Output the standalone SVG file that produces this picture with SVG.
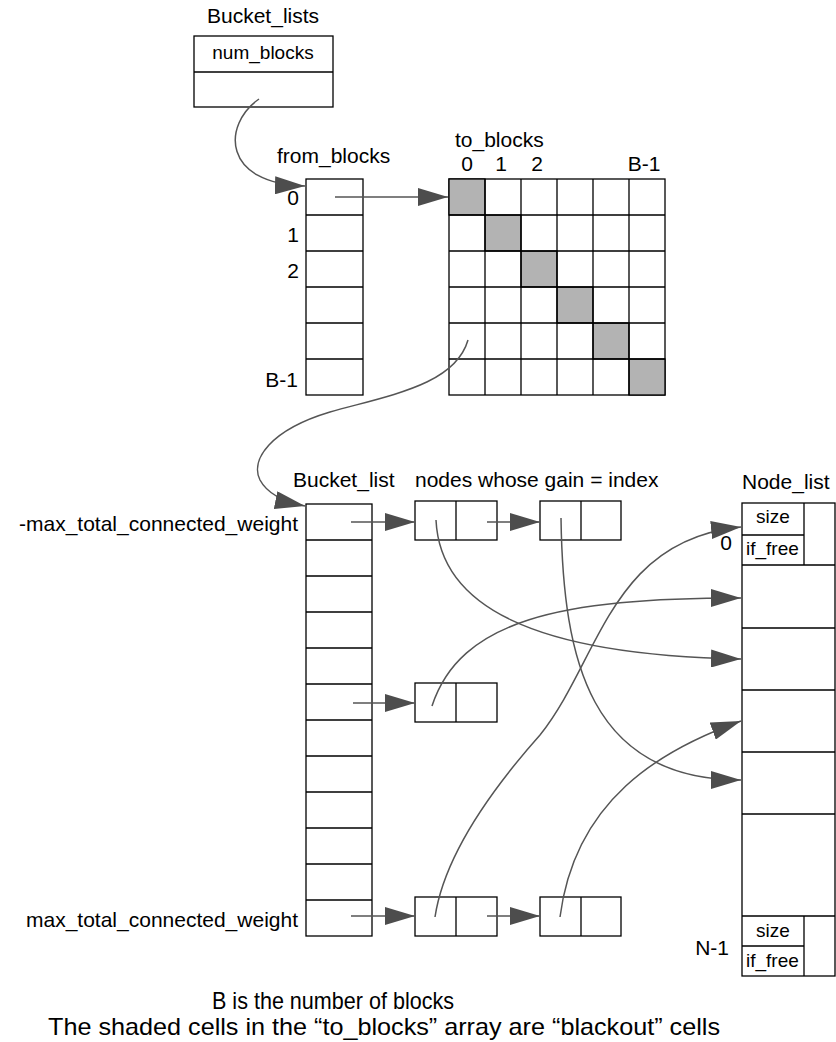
<svg xmlns="http://www.w3.org/2000/svg" width="836" height="1042" viewBox="0 0 836 1042">
  <style>
    .box { fill: #ffffff; stroke: #000000; stroke-width: 1.3; }
    .shade { fill: #b3b3b3; stroke: #000000; stroke-width: 1.3; }
    .div { stroke: #000000; stroke-width: 1.3; fill: none; }
    .lbl { font-family: "Liberation Sans", Arial, sans-serif; font-size: 21px; fill: #000000; }
    .cell { font-family: "Liberation Sans", Arial, sans-serif; font-size: 19px; fill: #000000; }
    .note { font-family: "Liberation Sans", Arial, sans-serif; font-size: 24px; fill: #000000; }
    .wire { fill: none; stroke: #555555; stroke-width: 1.5; marker-end: url(#head); }
  </style>
  <defs>
    <marker id="head" markerUnits="userSpaceOnUse" markerWidth="30" markerHeight="18" refX="30" refY="9" orient="auto">
      <path d="M0,0 L30,9 L0,18 Z" fill="#4d4d4d"/>
    </marker>
  </defs>

  <!-- Bucket_lists record -->
  <g id="bucket-lists">
    <text class="lbl" x="207" y="23">Bucket_lists</text>
    <rect class="box" x="194" y="36" width="139" height="71"/>
    <line class="div" x1="194" y1="72" x2="333" y2="72"/>
    <text class="cell" x="263" y="59" text-anchor="middle">num_blocks</text>
  </g>

  <!-- from_blocks array -->
  <g id="from-blocks">
    <text class="lbl" x="277" y="163">from_blocks</text>
    <rect class="box" x="306" y="179" width="57" height="216"/>
    <path class="div" d="M306,215 H363 M306,251 H363 M306,287 H363 M306,323 H363 M306,359 H363"/>
    <text class="lbl" x="299" y="205" text-anchor="end">0</text>
    <text class="lbl" x="299" y="242" text-anchor="end">1</text>
    <text class="lbl" x="299" y="278" text-anchor="end">2</text>
    <text class="lbl" x="298" y="387" text-anchor="end">B-1</text>
  </g>

  <!-- to_blocks matrix, diagonal cells shaded -->
  <g id="to-blocks">
    <text class="lbl" x="455" y="147">to_blocks</text>
    <text class="lbl" x="467" y="171" text-anchor="middle">0</text>
    <text class="lbl" x="501" y="171" text-anchor="middle">1</text>
    <text class="lbl" x="537" y="171" text-anchor="middle">2</text>
    <text class="lbl" x="644" y="171" text-anchor="middle">B-1</text>
    <rect class="box" x="449" y="179" width="216" height="216"/>
    <rect class="shade" x="449" y="179" width="36" height="36"/>
    <rect class="shade" x="485" y="215" width="36" height="36"/>
    <rect class="shade" x="521" y="251" width="36" height="36"/>
    <rect class="shade" x="557" y="287" width="36" height="36"/>
    <rect class="shade" x="593" y="323" width="36" height="36"/>
    <rect class="shade" x="629" y="359" width="36" height="36"/>
    <path class="div" d="M485,179 V395 M521,179 V395 M557,179 V395 M593,179 V395 M629,179 V395 M449,215 H665 M449,251 H665 M449,287 H665 M449,323 H665 M449,359 H665"/>
  </g>

  <!-- Bucket_list array indexed by gain -->
  <g id="bucket-list">
    <text class="lbl" x="293" y="487">Bucket_list</text>
    <rect class="box" x="306" y="504" width="66" height="432"/>
    <path class="div" d="M306,540 H372 M306,576 H372 M306,612 H372 M306,648 H372 M306,684 H372 M306,720 H372 M306,756 H372 M306,792 H372 M306,828 H372 M306,864 H372 M306,900 H372"/>
    <text class="lbl" x="298" y="531" text-anchor="end">-max_total_connected_weight</text>
    <text class="lbl" x="298" y="927" text-anchor="end">max_total_connected_weight</text>
  </g>

  <text class="lbl" x="415" y="487">nodes whose gain = index</text>

  <!-- list nodes -->
  <g id="node-a">
    <rect class="box" x="415" y="501" width="82" height="39"/>
    <line class="div" x1="456" y1="501" x2="456" y2="540"/>
  </g>
  <g id="node-b">
    <rect class="box" x="540" y="501" width="81" height="39"/>
    <line class="div" x1="581" y1="501" x2="581" y2="540"/>
  </g>
  <g id="node-c">
    <rect class="box" x="415" y="683" width="82" height="39"/>
    <line class="div" x1="456" y1="683" x2="456" y2="722"/>
  </g>
  <g id="node-d">
    <rect class="box" x="415" y="897" width="82" height="39"/>
    <line class="div" x1="456" y1="897" x2="456" y2="936"/>
  </g>
  <g id="node-e">
    <rect class="box" x="540" y="897" width="81" height="39"/>
    <line class="div" x1="581" y1="897" x2="581" y2="936"/>
  </g>

  <!-- Node_list array -->
  <g id="node-list">
    <text class="lbl" x="742" y="489">Node_list</text>
    <rect class="box" x="742" y="503" width="93" height="473"/>
    <path class="div" d="M742,565 H835 M742,628 H835 M742,690 H835 M742,752 H835 M742,814 H835 M742,916 H835"/>
    <path class="div" d="M804,503 V565 M742,535 H804 M804,916 V976 M742,946 H804"/>
    <text class="cell" x="773" y="523" text-anchor="middle">size</text>
    <text class="cell" x="746" y="555">if_free</text>
    <text class="cell" x="773" y="937" text-anchor="middle">size</text>
    <text class="cell" x="746" y="967">if_free</text>
    <text class="lbl" x="732" y="550" text-anchor="end">0</text>
    <text class="lbl" x="729" y="955" text-anchor="end">N-1</text>
  </g>

  <!-- pointers -->
  <g id="connectors">
    <path class="wire" d="M259,99 C222,125 222,184 305,186"/>
    <path class="wire" d="M335,197 H448"/>
    <path class="wire" d="M468,340 C455,385 390,395 330,412 C270,430 250,460 260,480 C268,495 285,502 305,506"/>
    <path class="wire" d="M351,522 H415"/>
    <path class="wire" d="M487,522 H540"/>
    <path class="wire" d="M353,703 H415"/>
    <path class="wire" d="M351,916 H415"/>
    <path class="wire" d="M487,916 H540"/>
    <path class="wire" d="M436,520 C440,605 530,655 741,659"/>
    <path class="wire" d="M561,518 C563,660 590,780 741,780"/>
    <path class="wire" d="M432,706 C460,620 560,598 741,598"/>
    <path class="wire" d="M435,917 C445,850 500,780 540,735 C600,660 610,540 741,527"/>
    <path class="wire" d="M560,917 C575,800 660,750 741,721"/>
  </g>

  <!-- footnotes -->
  <text class="note" x="212" y="1009" textLength="242" lengthAdjust="spacingAndGlyphs">B is the number of blocks</text>
  <text class="note" x="48" y="1035" textLength="672" lengthAdjust="spacingAndGlyphs">The shaded cells in the “to_blocks” array are “blackout” cells</text>
</svg>
